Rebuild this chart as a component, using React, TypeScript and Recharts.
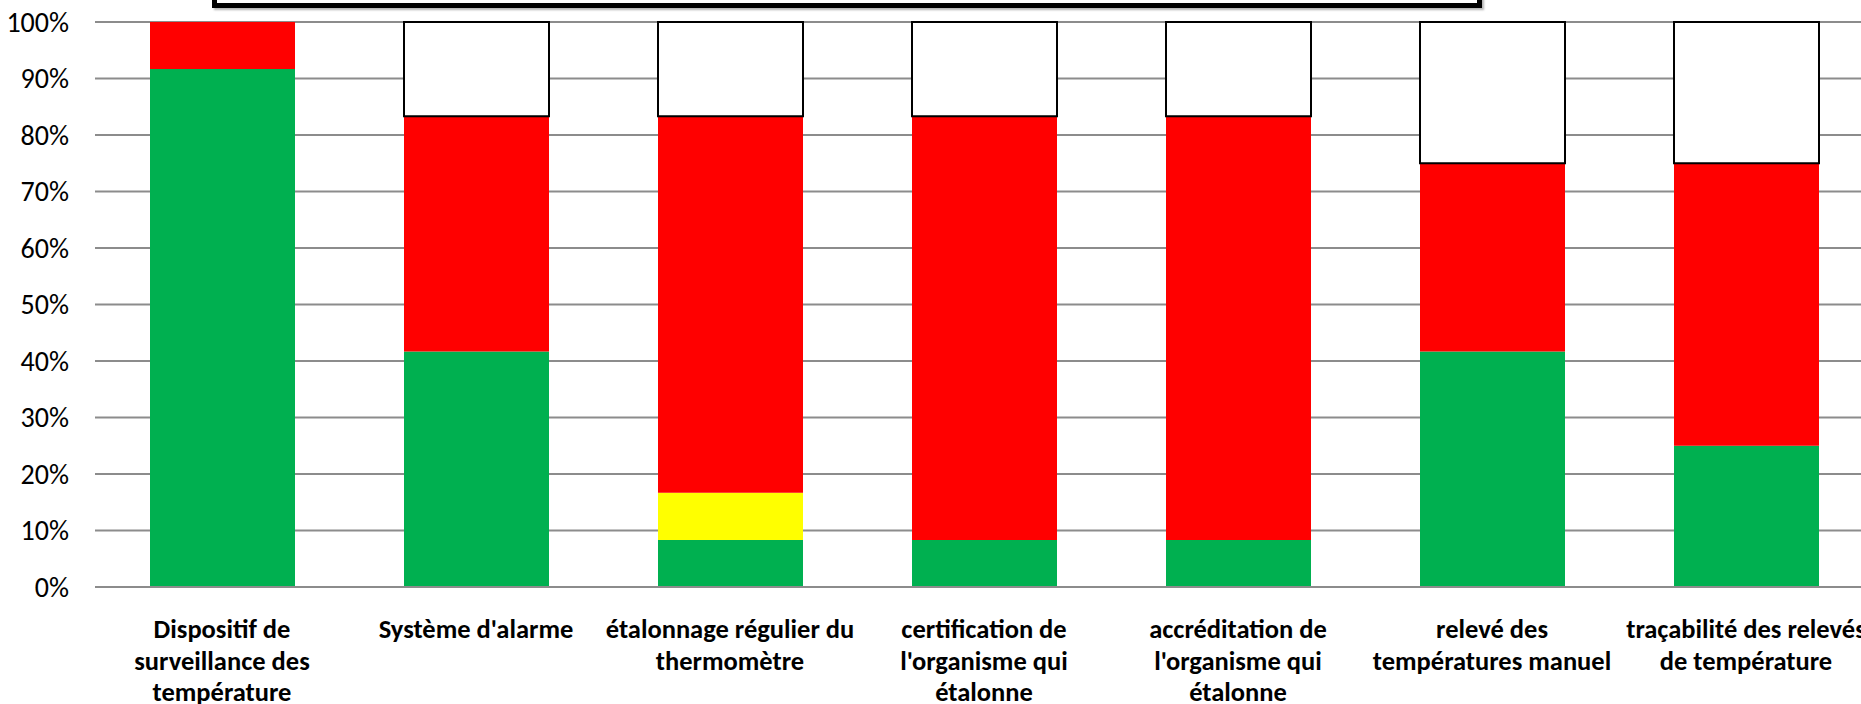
import { BarChart, Bar, XAxis, YAxis, CartesianGrid } from 'recharts';

const categories = [
  'Dispositif de\nsurveillance des\ntempérature',
  "Système d'alarme",
  'étalonnage régulier du\nthermomètre',
  "certification de\nl'organisme qui\nétalonne",
  "accréditation de\nl'organisme qui\nétalonne",
  'relevé des\ntempératures manuel',
  'traçabilité des relevés\nde température',
];

// answers out of 12
const green = [11, 5, 1, 1, 1, 5, 3];
const yellow = [0, 0, 1, 0, 0, 0, 0];
const red = [1, 5, 8, 9, 9, 4, 6];
const blank = [0, 2, 2, 2, 2, 3, 3];

const yTicks = [0, 0.1, 0.2, 0.3, 0.4, 0.5, 0.6, 0.7, 0.8, 0.9, 1];

const data = categories.map((name, i) => ({
  name,
  green: green[i],
  yellow: yellow[i],
  red: red[i],
  blank: blank[i],
}));

const FONT = 'Carlito, Lato, "Open Sans", sans-serif';

function CategoryTick({ x, y, payload }: any) {
  const lines = String(payload.value).split('\n');
  return (
    <text x={x} y={y} textAnchor="middle" fill="#000" fontFamily={FONT} fontSize={26.5} fontWeight={700}>
      {lines.map((line, i) => (
        <tspan key={i} x={x} dy={i === 0 ? 51 : 31.5}>
          {line}
        </tspan>
      ))}
    </text>
  );
}

export default function App() {
  return (
    <div
      style={{
        position: 'absolute',
        left: 0,
        top: 0,
        width: 1861,
        height: 704,
        overflow: 'hidden',
        background: '#fff',
      }}
    >
      <BarChart
        width={1873}
        height={704}
        data={data}
        stackOffset="expand"
        margin={{ top: 22, right: 0, bottom: 0, left: 0 }}
      >
        <CartesianGrid vertical={false} stroke="#8c8c8c" strokeWidth={2} />
        <XAxis
          dataKey="name"
          height={117}
          interval={0}
          tickLine={false}
          tickSize={0}
          tickMargin={0}
          axisLine={{ stroke: '#8c8c8c', strokeWidth: 2 }}
          tick={<CategoryTick />}
        />
        <YAxis
          width={95}
          domain={[0, 1]}
          ticks={yTicks}
          axisLine={false}
          tickLine={false}
          tickSize={0}
          tickMargin={26}
          tickFormatter={(v: number) => `${Math.round(v * 100)}%`}
          tick={{ fill: '#000', fontFamily: FONT, fontSize: 28 }}
        />
        <Bar dataKey="green" stackId="a" fill="#00B050" barSize={145} isAnimationActive={false} />
        <Bar dataKey="yellow" stackId="a" fill="#FFFF00" barSize={145} isAnimationActive={false} />
        <Bar dataKey="red" stackId="a" fill="#FF0000" barSize={145} isAnimationActive={false} />
        <Bar
          dataKey="blank"
          stackId="a"
          fill="#FFFFFF"
          stroke="#000"
          strokeWidth={2}
          barSize={145}
          isAnimationActive={false}
        />
      </BarChart>
      <div
        style={{
          position: 'absolute',
          left: 212,
          top: -12,
          width: 1270,
          height: 20,
          boxSizing: 'border-box',
          border: '5px solid #000',
          boxShadow: '2px 2px 2px rgba(0,0,0,0.3)',
        }}
      />
    </div>
  );
}
